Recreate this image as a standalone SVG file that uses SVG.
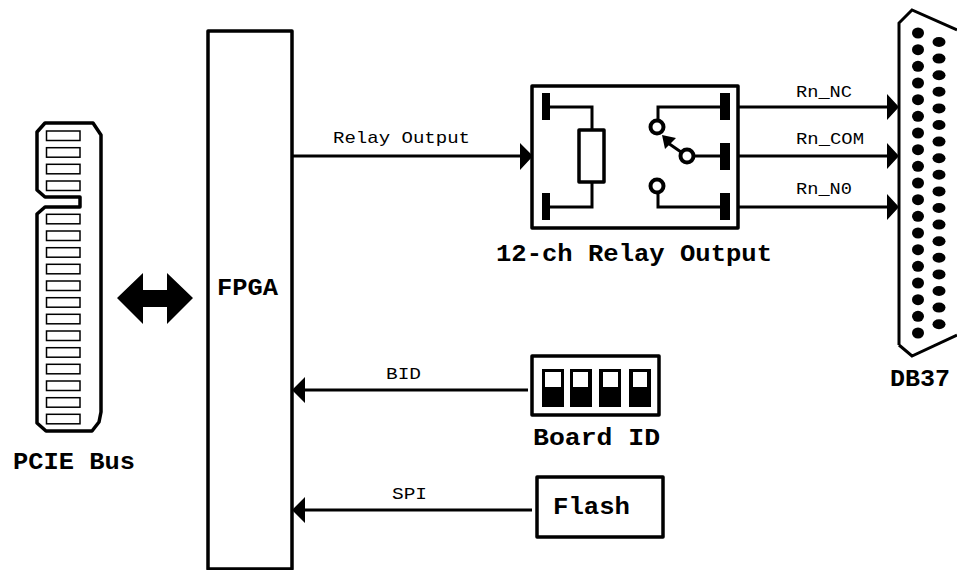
<svg xmlns="http://www.w3.org/2000/svg" width="957" height="570" viewBox="0 0 957 570">
<style>
.o{fill:#fff;stroke:#000;stroke-width:3.5;stroke-linejoin:round}
.l{fill:none;stroke:#000;stroke-width:3}
.p{fill:#fff;stroke:#000;stroke-width:1.5}
.k{fill:#000;stroke:none}
.c{fill:#fff;stroke:#000;stroke-width:4}
.t{font-family:"Liberation Mono",monospace;font-weight:bold;font-size:24px;fill:#000}
.s{font-family:"Liberation Mono",monospace;font-size:17px;fill:#000}
</style>
<defs>
<rect id="pin" class="p" x="46.5" y="0" width="33.5" height="9.5"/>
<ellipse id="d" class="k" rx="6" ry="5.5"/>
<ellipse id="e" class="k" rx="6.5" ry="5"/>
</defs>
<rect width="957" height="570" fill="#fff"/>
<g id="connectors">
<path class="l" d="M293 156H522M738 107H889M738 156H889M738 207H889M528 390H303M532 510H303"/>
<path class="k" d="M533 156L520 143V170ZM899 107L887 94V120ZM899 156L887 143V169ZM899 207L887 194V220ZM292 390L305 377V403ZM292 510L305 497V523Z"/>
<path class="k" d="M117 298L143 273V290H167V273L193 298L167 324V307H143V324Z"/>
</g>
<g id="pcie">
<path class="o" d="M45 123H93L101 135V412L99 422L92 431H46L37 423V214L45 207H80V197H45L37 190V132Z"/>
<use href="#pin" y="131"/><use href="#pin" y="147.7"/><use href="#pin" y="164.3"/><use href="#pin" y="181"/>
<use href="#pin" y="214.3"/><use href="#pin" y="231"/><use href="#pin" y="247.7"/><use href="#pin" y="264.3"/><use href="#pin" y="281"/><use href="#pin" y="297.7"/><use href="#pin" y="314.3"/><use href="#pin" y="331"/><use href="#pin" y="347.7"/><use href="#pin" y="364.3"/><use href="#pin" y="381"/><use href="#pin" y="397.7"/><use href="#pin" y="414.3"/>
<text class="t" x="13" y="469" textLength="122" lengthAdjust="spacingAndGlyphs">PCIE Bus</text>
</g>
<g id="fpga">
<rect class="o" x="208" y="31" width="84" height="538"/>
<text class="t" x="217" y="295" textLength="61" lengthAdjust="spacingAndGlyphs">FPGA</text>
</g>
<g id="relay">
<rect class="o" x="532" y="86" width="206" height="142"/>
<path class="l" d="M550 107H592V130M592 182V207H550M720 107H658V120M658 193V207H720M694 156H720M681 152L668 143"/>
<rect class="o" x="579" y="130" width="25" height="52"/>
<path class="k" d="M542 93H550V120H542ZM542 193H550V220H542ZM720 93H730V120H720ZM720 143H730V170H720ZM720 193H730V220H720ZM662 135L676 138L665 149Z"/>
<circle class="c" cx="657" cy="127" r="6.5"/><circle class="c" cx="657" cy="186" r="6.5"/><circle class="c" cx="687" cy="156" r="6.5"/>
<text class="t" x="496" y="261" textLength="276" lengthAdjust="spacingAndGlyphs">12-ch Relay Output</text>
</g>
<g id="db37">
<path class="l" d="M899 345V23L912 10L957 30M899 345L912 356L957 335" stroke-width="3.5"/>
<use href="#d" x="918" y="33"/><use href="#d" x="918" y="49.7"/><use href="#d" x="918" y="66.3"/><use href="#d" x="918" y="83"/><use href="#d" x="918" y="99.7"/><use href="#d" x="918" y="116.3"/><use href="#d" x="918" y="133"/><use href="#d" x="918" y="149.7"/><use href="#d" x="918" y="166.3"/><use href="#d" x="918" y="183"/><use href="#d" x="918" y="199.7"/><use href="#d" x="918" y="216.3"/><use href="#d" x="918" y="233"/><use href="#d" x="918" y="249.7"/><use href="#d" x="918" y="266.3"/><use href="#d" x="918" y="283"/><use href="#d" x="918" y="299.7"/><use href="#d" x="918" y="316.3"/><use href="#d" x="918" y="333"/>
<use href="#e" x="939" y="42"/><use href="#e" x="939" y="58.6"/><use href="#e" x="939" y="75.2"/><use href="#e" x="939" y="91.8"/><use href="#e" x="939" y="108.4"/><use href="#e" x="939" y="125"/><use href="#e" x="939" y="141.6"/><use href="#e" x="939" y="158.2"/><use href="#e" x="939" y="174.8"/><use href="#e" x="939" y="191.4"/><use href="#e" x="939" y="208"/><use href="#e" x="939" y="224.6"/><use href="#e" x="939" y="241.2"/><use href="#e" x="939" y="257.8"/><use href="#e" x="939" y="274.4"/><use href="#e" x="939" y="291"/><use href="#e" x="939" y="307.6"/><use href="#e" x="939" y="324.2"/>
<text class="t" x="890" y="386" textLength="60" lengthAdjust="spacingAndGlyphs">DB37</text>
</g>
<g id="board-id">
<rect class="o" x="532" y="356" width="127" height="59"/>
<path class="k" d="M542 369H564V407H542ZM570 369H592V407H570ZM599 369H621V407H599ZM629 369H651V407H629Z"/>
<path d="M545 372H561V387H545ZM573 372H588V387H573ZM603 372H618V387H603ZM633 372H647V387H633Z" fill="#fff"/>
<text class="t" x="533" y="445" textLength="127" lengthAdjust="spacingAndGlyphs">Board ID</text>
</g>
<g id="flash">
<rect class="o" x="537" y="477" width="126" height="60"/>
<text class="t" x="553" y="514" textLength="77" lengthAdjust="spacingAndGlyphs">Flash</text>
</g>
<g id="labels">
<text class="s" x="333" y="143" textLength="137" lengthAdjust="spacingAndGlyphs">Relay Output</text>
<text class="s" x="796" y="97" textLength="56" lengthAdjust="spacingAndGlyphs">Rn_NC</text>
<text class="s" x="796" y="144" textLength="68" lengthAdjust="spacingAndGlyphs">Rn_COM</text>
<text class="s" x="796" y="194" textLength="56" lengthAdjust="spacingAndGlyphs">Rn_N0</text>
<text class="s" x="386" y="379" textLength="35" lengthAdjust="spacingAndGlyphs">BID</text>
<text class="s" x="392" y="499" textLength="35" lengthAdjust="spacingAndGlyphs">SPI</text>
</g>
</svg>
